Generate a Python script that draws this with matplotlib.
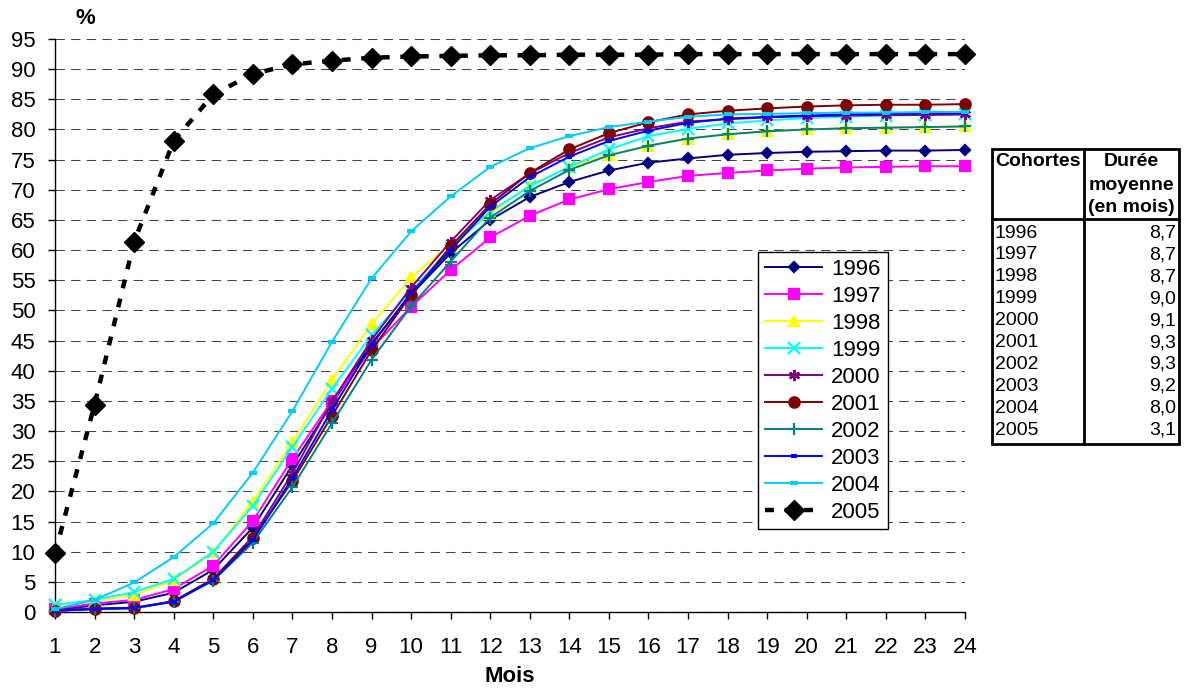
import matplotlib
matplotlib.use('Agg')
import matplotlib.pyplot as plt
from matplotlib.patches import Rectangle

plt.rcParams['font.family'] = ['Liberation Sans', 'DejaVu Sans']

# Cumulative share (%) by month since entry, one series per cohort
mois = list(range(1, 25))
c1996 = [0.3, 1.1, 1.7, 3.2, 7.0, 14.0, 24.3, 34.5, 44.5, 52.6, 59.5, 65.0,
         68.8, 71.3, 73.2, 74.5, 75.2, 75.8, 76.1, 76.3, 76.4, 76.5, 76.5, 76.6]
c1997 = [0.5, 1.4, 2.0, 3.8, 7.7, 15.1, 25.4, 35.0, 43.7, 50.6, 56.7, 62.1,
         65.7, 68.4, 70.1, 71.3, 72.3, 72.8, 73.2, 73.5, 73.7, 73.8, 73.9, 73.9]
c1998 = [0.8, 1.8, 2.8, 5.3, 9.9, 18.3, 28.2, 38.5, 47.7, 55.5, 61.0, 66.0,
         70.8, 73.7, 75.8, 77.3, 78.5, 79.2, 79.7, 80.0, 80.2, 80.3, 80.4, 80.5]
c1999 = [1.2, 2.0, 3.3, 5.5, 10.0, 17.6, 27.4, 37.0, 45.9, 53.2, 60.4, 66.4,
         70.6, 73.8, 76.7, 78.9, 80.1, 81.0, 81.5, 81.9, 82.1, 82.3, 82.4, 82.5]
c2000 = [0.3, 0.6, 0.7, 1.8, 5.5, 12.5, 23.0, 34.9, 45.1, 53.8, 61.4, 68.3,
         72.7, 76.1, 78.7, 80.2, 81.3, 81.7, 82.0, 82.2, 82.3, 82.4, 82.4, 82.5]
c2001 = [0.2, 0.5, 0.6, 1.8, 5.4, 12.2, 21.7, 32.5, 43.4, 52.6, 60.6, 67.6,
         72.8, 76.7, 79.4, 81.2, 82.5, 83.1, 83.5, 83.8, 84.0, 84.1, 84.1, 84.2]
c2002 = [0.2, 0.5, 0.6, 1.7, 5.2, 11.5, 20.7, 31.3, 41.8, 50.7, 58.1, 65.4,
         69.8, 73.3, 75.7, 77.3, 78.5, 79.2, 79.7, 80.0, 80.2, 80.3, 80.4, 80.5]
c2003 = [0.2, 0.5, 0.7, 1.7, 5.3, 11.9, 22.2, 33.5, 44.3, 52.9, 60.0, 67.2,
         72.1, 75.5, 78.1, 79.8, 81.1, 81.8, 82.1, 82.3, 82.5, 82.6, 82.7, 82.7]
c2004 = [0.5, 2.0, 4.9, 9.1, 14.7, 23.1, 33.3, 44.8, 55.3, 63.1, 68.9, 73.8,
         76.9, 78.9, 80.4, 81.3, 82.1, 82.5, 82.6, 82.7, 82.8, 82.8, 82.9, 82.9]
c2005 = [9.7, 34.4, 61.4, 78.1, 85.8, 89.2, 90.8, 91.4, 91.9, 92.1, 92.2, 92.3,
         92.3, 92.4, 92.4, 92.4, 92.5, 92.5, 92.5, 92.5, 92.5, 92.5, 92.5, 92.5]

cohortes = ['1996', '1997', '1998', '1999', '2000', '2001', '2002', '2003', '2004', '2005']
duree = ['8,7', '8,7', '8,7', '9,0', '9,1', '9,3', '9,3', '9,2', '8,0', '3,1']

series = [c1996, c1997, c1998, c1999, c2000, c2001, c2002, c2003, c2004]
colors = ['#000080', '#FF00FF', '#FFFF00', '#00FFFF', '#800080',
          '#800000', '#008080', '#0000FF', '#00CCFF']
markers = ['D', 's', '^', 'x', (6, 2, 0), 'o', '+', '_', '_']
msizes = [5.5, 7, 7.5, 8, 8, 7.5, 9, 5, 6]

fig = plt.figure(figsize=(11.86, 6.88), dpi=100)
ax = fig.add_axes([55 / 1186, 76 / 688, 910 / 1186, 573 / 688])

for y, col, mk, ms, lab in zip(series, colors, markers, msizes, cohortes[:9]):
    mew = 3 if mk == '_' else 1.6
    ax.plot(mois, y, color=col, lw=1.4, marker=mk, ms=ms, mec=col, mfc=col,
            mew=mew, label=lab, zorder=3, clip_on=False)

ax.plot(mois, c2005, color='black', lw=3.2, linestyle=(0, (2, 2.4)),
        marker='D', ms=10, mfc='black', mec='black', label='2005', zorder=4,
        clip_on=False)

ax.set_xlim(1, 24)
ax.set_ylim(0, 95)
ax.set_xticks(mois)
ax.set_yticks(range(0, 96, 5))
ax.grid(axis='y', color='#444444', lw=0.75, linestyle=(0, (9, 6)))
ax.set_axisbelow(True)
for s in ['top', 'right']:
    ax.spines[s].set_visible(False)
for s in ['left', 'bottom']:
    ax.spines[s].set_linewidth(1.0)
    ax.spines[s].set_color('black')
ax.tick_params(axis='y', direction='out', length=5, width=1, pad=9, labelsize=16)
ax.tick_params(axis='x', direction='out', length=5, width=1, pad=13, labelsize=16)

ax.set_xlabel('Mois', fontsize=16, fontweight='bold', labelpad=6)
fig.text(85 / 1186, 1 - 18 / 688, '%', fontsize=16, fontweight='bold',
         ha='center', va='center')

leg = ax.legend(loc='upper left', bbox_to_anchor=(758 / 1186, 1 - 252 / 688),
                bbox_transform=fig.transFigure, fontsize=16, frameon=True,
                fancybox=False, edgecolor='black', framealpha=1,
                handlelength=2.6, labelspacing=0.27, borderpad=0.3,
                handletextpad=0.4, borderaxespad=0)
leg.get_frame().set_linewidth(1.0)

# Side table: average duration per cohort
tab = fig.add_axes([0, 0, 1, 1])
tab.set_xlim(0, 1186)
tab.set_ylim(688, 0)
tab.axis('off')
left, mid, right = 992, 1084, 1179
top, head, bottom = 149, 219, 444
tab.add_patch(Rectangle((left, top), right - left, bottom - top,
                        fill=False, ec='black', lw=2))
tab.plot([mid, mid], [top, bottom], color='black', lw=2)
tab.plot([left, right], [head, head], color='black', lw=2)
tab.text(left + 3, 162, 'Cohortes', fontsize=14, fontweight='bold',
         ha='left', va='center')
for i, t in enumerate(['Durée', 'moyenne', '(en mois)']):
    tab.text((mid + right) / 2, 162 + 23 * i, t, fontsize=14, fontweight='bold',
             ha='center', va='center')
for i, (c, d) in enumerate(zip(cohortes, duree)):
    yy = 233 + 21.9 * i
    tab.text(left + 3, yy, c, fontsize=14, ha='left', va='center')
    tab.text(right - 3, yy, d, fontsize=14, ha='right', va='center')

plt.savefig('out.png', dpi=100)
